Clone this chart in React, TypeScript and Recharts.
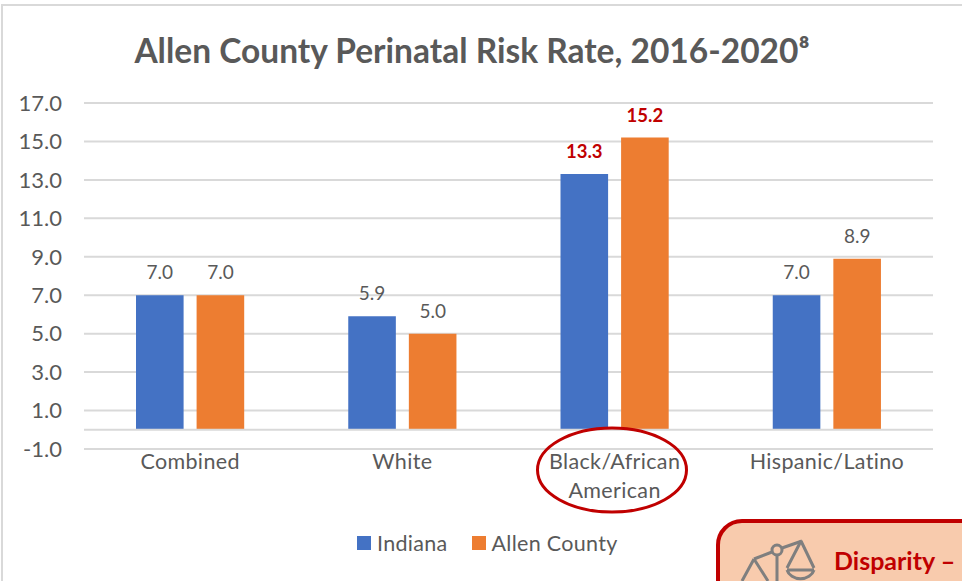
import React from "react";
import { BarChart, Bar, XAxis, YAxis, CartesianGrid, Legend, LabelList, ReferenceLine } from "recharts";

const categories = ["Combined", "White", "Black/African American", "Hispanic/Latino"];
const indiana = [7.0, 5.9, 13.3, 7.0];
const allenCounty = [7.0, 5.0, 15.2, 8.9];
const yTicks = [-1, 1, 3, 5, 7, 9, 11, 13, 15, 17];
const highlighted = "Black/African American";
const tickLines: Record<string, string[]> = { "Black/African American": ["Black/African", "American"] };

const data = categories.map((c, i) => ({ category: c, indiana: indiana[i], allen: allenCounty[i] }));
const FONT = "Lato, 'Open Sans', sans-serif";
const GREY = "#595959";

const CategoryTick = (p: any) => {
  const lines = tickLines[p.payload.value] || [p.payload.value];
  return (
    <g>
      {lines.map((l: string, i: number) => (
        <text key={l} x={p.x} y={p.y + 12 + i * 29} textAnchor="middle" fontFamily={FONT} fontSize={21.5} fill={GREY} letterSpacing={0.35}>{l}</text>
      ))}
    </g>
  );
};

const ValueLabel = (p: any) => {
  const hot = p.index === categories.indexOf(highlighted);
  return (
    <text x={p.x + p.width / 2} y={p.y - 16} textAnchor="middle" fontFamily={FONT} fontSize={hot ? 18.5 : 19}
      fontWeight={hot ? 700 : 400} fill={hot ? "#C00000" : GREY}>
      {Number(p.value).toFixed(1)}
    </text>
  );
};

const LegendContent = (p: any) => (
  <div style={{ display: "flex", alignItems: "center", fontFamily: FONT, fontSize: 21.5, letterSpacing: 0.3, color: GREY, lineHeight: "28px" }}>
    {p.payload.map((e: any, i: number) => (
      <span key={e.value} style={{ display: "flex", alignItems: "center", marginRight: i === 0 ? 24 : 0 }}>
        <span style={{ width: 14, height: 14, background: e.color, marginRight: 6, display: "inline-block" }} />
        {e.value}
      </span>
    ))}
  </div>
);

export default function App() {
  return (
    <div style={{ position: "absolute", left: 0, top: 0, width: 962, height: 581, overflow: "hidden", background: "#fff" }}>
      <div style={{ position: "absolute", left: 1, top: 4, width: 959, height: 575, border: "2px solid #D9D9D9", boxSizing: "content-box" }} />
      <div style={{ position: "absolute", left: 0, top: 0 }}>
        <BarChart width={962} height={581} data={data} margin={{ top: 103, right: 29, bottom: 74, left: 0 }} barSize={47.6} barGap={13}>
          <CartesianGrid vertical={false} stroke="#D9D9D9" strokeWidth={2} />
          <XAxis dataKey="category" axisLine={false} tickLine={false} tick={<CategoryTick />} interval={0} />
          <YAxis width={84} domain={[-1, 17]} ticks={yTicks} interval={0} axisLine={false} tickLine={false}
            tickFormatter={(v: number) => v.toFixed(1)} tickMargin={16}
            tick={{ fontFamily: FONT, fontSize: 22, fill: GREY }} />
          <ReferenceLine y={0} stroke="#D9D9D9" strokeWidth={2} />
          <Legend verticalAlign="bottom" itemSorter={null} content={<LegendContent />}
            wrapperStyle={{ left: 357, top: 529, width: 280, bottom: "auto" }} />
          <Bar dataKey="indiana" name="Indiana" fill="#4472C4" isAnimationActive={false}>
            <LabelList dataKey="indiana" content={<ValueLabel />} />
          </Bar>
          <Bar dataKey="allen" name="Allen County" fill="#ED7D31" isAnimationActive={false}>
            <LabelList dataKey="allen" content={<ValueLabel />} />
          </Bar>
        </BarChart>
      </div>
      <div style={{ position: "absolute", left: 0, width: 944, top: 30, textAlign: "center", fontFamily: FONT, fontSize: 33.5, fontWeight: 700, color: GREY, whiteSpace: "nowrap" }}>
        Allen County Perinatal Risk Rate, 2016-2020⁸
      </div>
      <svg width={962} height={581} style={{ position: "absolute", left: 0, top: 0, pointerEvents: "none" }}>
        <ellipse cx={612} cy={470} rx={74.5} ry={42} fill="none" stroke="#C00000" strokeWidth={3} />
        <rect x={718} y={521} width={300} height={100} rx={24} fill="#F8CBAD" stroke="#C00000" strokeWidth={4} />
        <g fill="none" stroke="#7F7F7F" strokeWidth={3}>
          <circle cx={777} cy={550} r={5} />
          <path d="M754 559 L772 552 M782 548 L802 541 M777 555 L777 581" />
          <path d="M754 559 L742 581 M754 559 L768 581" />
          <path d="M801 541 L787 568 M801 541 L814 568 M787 570 L814 570 M787 570 A14 12 0 0 0 814 570" />
        </g>
        <text x={834} y={570} fontFamily={FONT} fontSize={25} fontWeight={700} fill="#C00000">Disparity –</text>
      </svg>
    </div>
  );
}
